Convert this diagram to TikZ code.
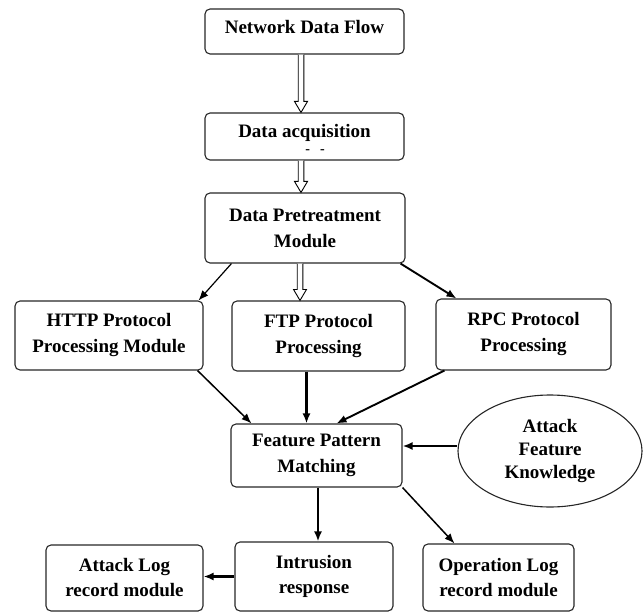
\documentclass[tikz,border=0pt]{standalone}
\usepackage{fontspec}
\setmainfont{Liberation Serif}
\usetikzlibrary{arrows.meta,shapes.geometric,calc}

% hollow double-shafted block arrow pointing down from #1 to #2
\newcommand{\hollowdown}[2]{%
  \draw[line width=0.9pt, fill=white, line join=miter]
    let \p1=(#1), \p2=(#2) in
    (\x1-2.8pt,\y1) -- (\x1-2.8pt,\y2+11pt) -- (\x1-6.5pt,\y2+11pt) -- (\x1,\y2)
    -- (\x1+6.5pt,\y2+11pt) -- (\x1+2.8pt,\y2+11pt) -- (\x1+2.8pt,\y1);}

\begin{document}
\begin{tikzpicture}[x=1pt,y=-1pt,
  box/.style={draw=black!85, line width=1.1pt, rounded corners=5pt, align=center,
    inner sep=0pt, font=\bfseries\fontsize{19}{26}\selectfont},
  lowbox/.style={box, font=\bfseries\fontsize{19}{25}\selectfont},
  conn/.style={line width=1.5pt, -{Latex[length=10pt,width=8pt]}},
  heavy/.style={conn, line width=2.6pt},
]
\useasboundingbox (0,0) rectangle (644,612);

% processing chain
\node[box, minimum width=199pt, minimum height=45pt, text depth=10pt] (ndf) at (304.5,31.5) {Network Data Flow};
\node[box, minimum width=199pt, minimum height=47pt, text depth=12pt] (da) at (304.5,136.5) {Data acquisition};
\node[inner sep=0pt, font=\bfseries\fontsize{14}{14}\selectfont] (dashes) at (315,152) {-\hspace{10pt}-};
\node[box, minimum width=200pt, minimum height=70pt] (dp) at (305,228) {Data Pretreatment\\Module};

\node[box, minimum width=188pt, minimum height=69pt] (http) at (109,335.5) {HTTP Protocol\\Processing Module};
\node[box, minimum width=173pt, minimum height=70pt] (ftp) at (318.5,336) {FTP Protocol\\Processing};
\node[box, minimum width=175pt, minimum height=71pt] (rpc) at (523.5,334.5) {RPC Protocol\\Processing};

\node[box, minimum width=171pt, minimum height=63pt] (fpm) at (316.5,455.5) {Feature Pattern\\Matching};
\node[draw=black!85, line width=1.1pt, ellipse, minimum width=184pt, minimum height=112pt,
  inner sep=0pt, align=center, font=\bfseries\fontsize{19}{23}\selectfont] (akf) at (550,451) {Attack\\Feature\\Knowledge};

\node[lowbox, minimum width=158pt, minimum height=69pt] (ir) at (314,576.5) {Intrusion\\response};
\node[lowbox, minimum width=157pt, minimum height=66pt] (al) at (124.5,578) {Attack Log\\record module};
\node[lowbox, minimum width=151pt, minimum height=67pt] (ol) at (498.5,577.5) {Operation Log\\record module};

% hollow arrows
\hollowdown{[xshift=-3.5pt]ndf.south}{[xshift=-3.5pt]da.north}
\hollowdown{[xshift=-3.5pt]da.south}{[xshift=-3.5pt]dp.north}
\hollowdown{[xshift=-18.5pt]ftp.north |- dp.south}{[xshift=-18.5pt]ftp.north}

% solid connectors
\draw[conn, line width=1.2pt] ([xshift=27pt]dp.south west) -- ([xshift=-5pt]http.north east);
\draw[conn, line width=1.9pt] ([xshift=-5pt]dp.south east) -- ([xshift=21pt]rpc.north west);
\draw[conn] ([xshift=-6pt]http.south east) -- ([xshift=21pt]fpm.north west);
\draw[conn, line width=2.2pt] ([xshift=-12pt]ftp.south) -- ([xshift=-10pt]fpm.north);
\draw[conn, line width=1.9pt] ([xshift=9pt]rpc.south west) -- ([xshift=106pt]fpm.north west);
\draw[heavy] ([yshift=5pt]akf.west) -- ([yshift=9.5pt]fpm.east);
\draw[conn, line width=2pt] ([xshift=1.5pt]fpm.south) -- ([xshift=4pt]ir.north);
\draw[conn] (fpm.south east) -- ([xshift=32pt]ol.north west);
\draw[heavy] (ir.west) -- (ir.west -| al.east);
\end{tikzpicture}
\end{document}
